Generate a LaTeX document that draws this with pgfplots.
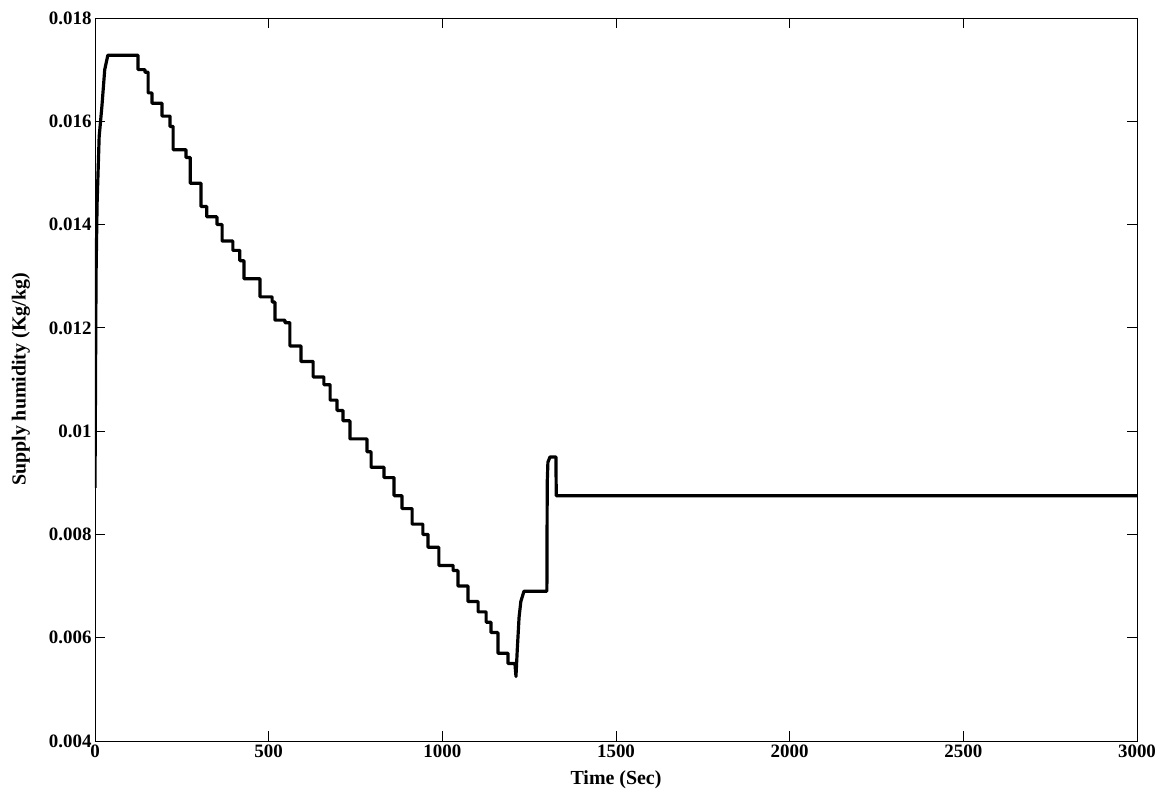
\documentclass[border=0pt]{standalone}
\usepackage{pgfplots}
\pgfplotsset{compat=1.18}
\usepackage{fontspec}
\setmainfont{Liberation Serif}
\begin{document}
\begin{tikzpicture}
\begin{axis}[
  scale only axis, width=1042bp, height=723bp,
  xmin=0, xmax=3000, ymin=0.004, ymax=0.018,
  xtick={0,500,...,3000},
  ytick={0.004,0.006,0.008,0.01,0.012,0.014,0.016,0.018},
  yticklabels={0.004,0.006,0.008,0.01,0.012,0.014,0.016,0.018},
  scaled y ticks=false,
  /pgf/number format/1000 sep={},
  tick align=inside, major tick length=10bp,
  tick style={black, line width=0.9pt},
  axis line style={line width=0.9pt},
  ticklabel style={font=\fontsize{19}{22}\selectfont\bfseries},
  label style={font=\fontsize{20}{23}\selectfont\bfseries},
  /pgf/number format/assume math mode=true,
  xlabel={Time (Sec)}, ylabel={Supply humidity (Kg/kg)},
  xlabel style={yshift=-7bp}, ylabel style={yshift=12bp},
]
\addplot[black, line width=3.2pt, line join=round] coordinates {
(0,0.0089)(3,0.0130)(6,0.0144)(12,0.0157)(20,0.0163)(28,0.0170)(37,0.01728)
(124,0.01728)(124,0.0170)(144,0.0170)(144,0.01695)(153,0.01695)(153,0.01655)(164,0.01655)
(164,0.01635)(193,0.01635)(193,0.0161)(216,0.0161)(216,0.0159)(225,0.0159)(225,0.01545)
(262,0.01545)(262,0.0153)(274,0.0153)(274,0.0148)(305,0.0148)(305,0.01435)(322,0.01435)
(322,0.01415)(351,0.01415)(351,0.0140)(366,0.0140)(366,0.01368)(397,0.01368)(397,0.0135)
(417,0.0135)(417,0.0133)(429,0.0133)(429,0.01295)(475,0.01295)(475,0.0126)(510,0.0126)
(510,0.0125)(518,0.0125)(518,0.01215)(547,0.01215)(547,0.0121)(561,0.0121)(561,0.01165)
(593,0.01165)(593,0.01135)(628,0.01135)(628,0.01105)(659,0.01105)(659,0.0109)(677,0.0109)
(677,0.0106)(697,0.0106)(697,0.0104)(714,0.0104)(714,0.0102)(734,0.0102)(734,0.00985)
(783,0.00985)(783,0.0096)(795,0.0096)(795,0.0093)(832,0.0093)(832,0.0091)(861,0.0091)
(861,0.00875)(884,0.00875)(884,0.0085)(913,0.0085)(913,0.0082)(944,0.0082)(944,0.0080)
(959,0.0080)(959,0.00775)(990,0.00775)(990,0.0074)(1031,0.0074)(1031,0.0073)(1045,0.0073)
(1045,0.0070)(1074,0.0070)(1074,0.0067)(1103,0.0067)(1103,0.0065)(1126,0.0065)(1126,0.0063)
(1140,0.0063)(1140,0.0061)(1160,0.0061)(1160,0.0057)(1189,0.0057)(1189,0.0055)(1209,0.0055)
(1212,0.00525)(1216,0.0058)(1221,0.0064)(1226,0.0067)(1235,0.0069)(1301,0.0069)
(1302,0.0090)(1304,0.0094)(1310,0.0095)(1327,0.0095)(1328,0.00875)(3000,0.00875)
};
\end{axis}
\path (-95bp,-62bp) rectangle (1074bp,741bp);
\end{tikzpicture}
\end{document}
